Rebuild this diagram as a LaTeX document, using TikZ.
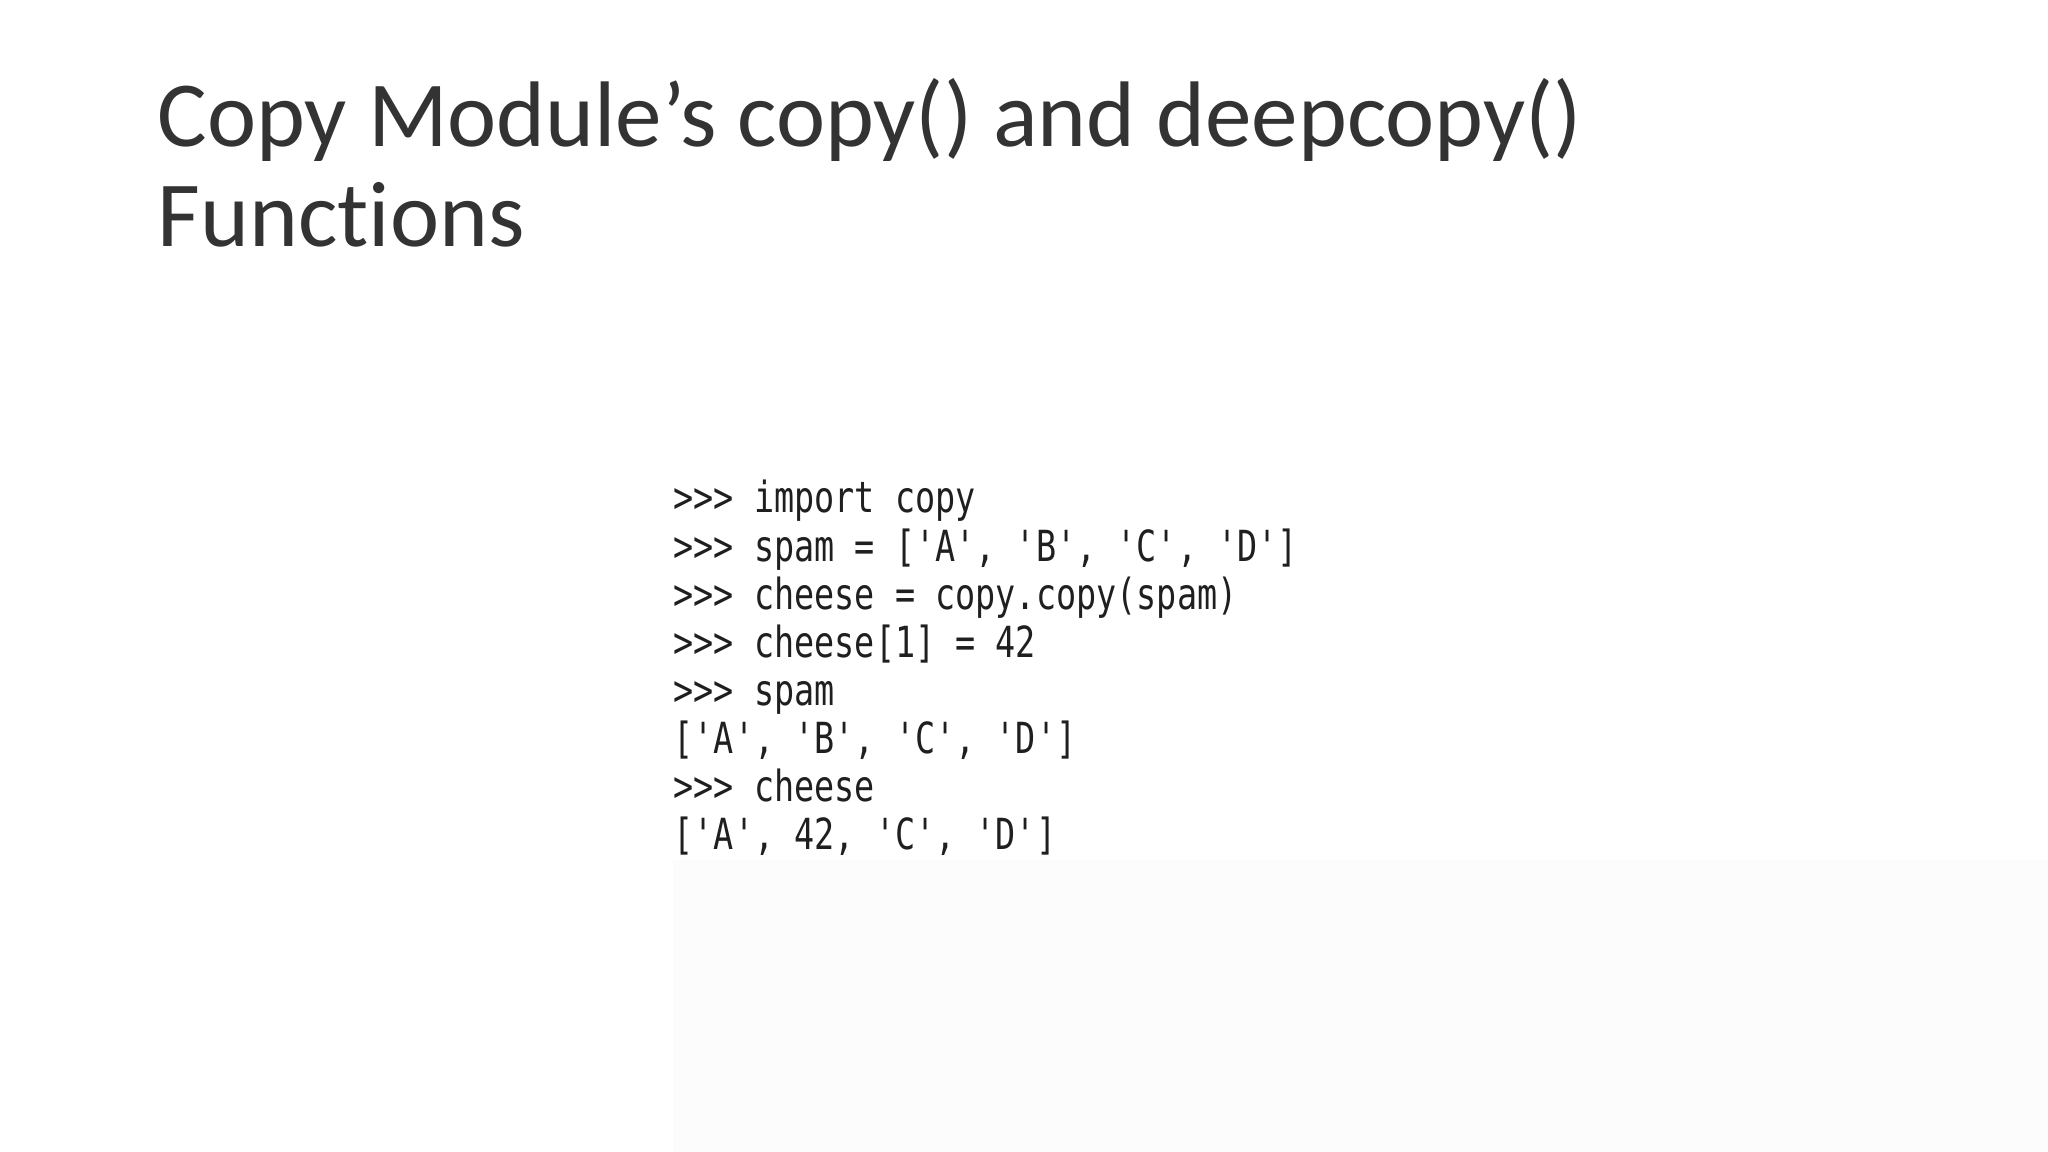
\documentclass[tikz,border=0pt]{standalone}
\usepackage{fontspec}
\setmainfont{Carlito}[Ligatures=NoCommon]
\newfontfamily\codefont{DejaVu Sans Mono}[FakeStretch=0.78]
\begin{document}
\begin{tikzpicture}[x=1cm,y=1cm,
  title/.style={anchor=base west,inner sep=0pt,font=\fontsize{26.5}{30}\selectfont, text=black!80},
  code/.style={anchor=base west,inner sep=0pt,font=\codefont\fontsize{12.2}{14}\selectfont, text=black!88}]
\useasboundingbox (0,0) rectangle (20.48,-11.52);
\fill[black!1] (6.73,-8.6) rectangle (20.48,-11.52);
\node[title] (t1) at (1.57,-1.47) {Copy Module’s copy() and deepcopy()};
\node[title] (t2) at (1.57,-2.47) {Functions};
\foreach \i/\s in {0/{>>> import copy},1/{>>> spam = ['A', 'B', 'C', 'D']},2/{>>> cheese = copy.copy(spam)},3/{>>> cheese[1] = 42},4/{>>> spam},5/{['A', 'B', 'C', 'D']},6/{>>> cheese},7/{['A', 42, 'C', 'D']}}
  \node[code] (c\i) at (6.73,{-5.13-0.481*\i}) {\s};
\end{tikzpicture}
\end{document}
